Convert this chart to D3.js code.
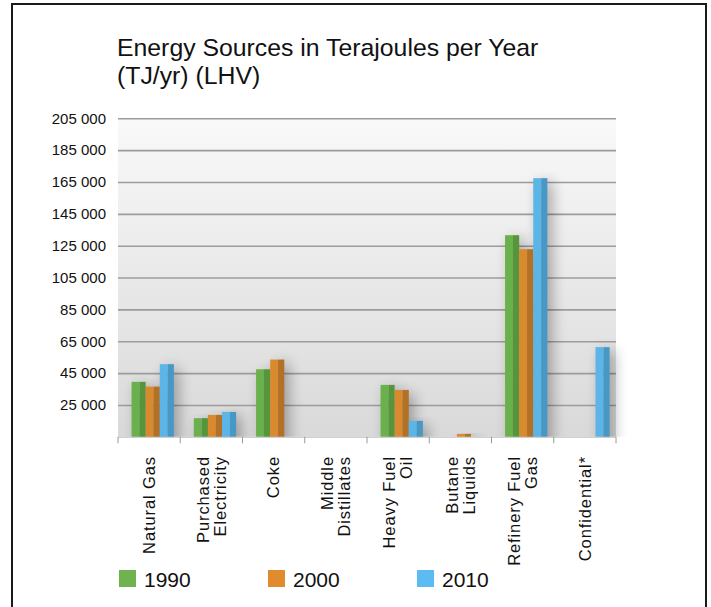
<!DOCTYPE html>
<html>
<head>
<meta charset="utf-8">
<script src="https://cdn.jsdelivr.net/npm/d3@7"></script>
<style>
    body { margin: 0; background: #fff; }
    text { font-family: "Liberation Sans", Arial, Helvetica, sans-serif; fill: #111; }
</style>
</head>
<body>
<div id="vis"></div>
<script>
// chart data
var categories = ['Natural Gas', 'Purchased\nElectricity', 'Coke', 'Middle\nDistillates',
    'Heavy Fuel\nOil', 'Butane\nLiquids', 'Refinery Fuel\nGas', 'Confidential*'];
var years = ['1990', '2000', '2010'];
var values1990 = [39500, 16700, 47400, null, 37600, null, 131600, null];
var values2000 = [36500, 18700, 53500, null, 34400, 6800, 122800, null];
var values2010 = [50600, 20600, null, null, 15000, null, 167400, 61300];
var yTicks = [25000, 45000, 65000, 85000, 105000, 125000, 145000, 165000, 185000, 205000];
var titleLines = ['Energy Sources in Terajoules per Year', '(TJ/yr) (LHV)'];

var width = 711;
var height = 607;
var plot = {left: 118, right: 616, top: 118.3, bottom: 436.8};

// light and dark face of every bar, plus legend colour
var barLight = ['#6ab04c', '#d98a2f', '#5bb5e6'];
var barDark = ['#57953d', '#b37125', '#4898c6'];
var legendColor = ['#6fb24f', '#e08c2e', '#5cbbf0'];

var series = [values1990, values2000, values2010];

var svg = d3.select('#vis')
    .append('svg')
    .attr('width', width)
    .attr('height', height);

var defs = svg.append('defs');

var grad = defs.append('linearGradient')
    .attr('id', 'bg')
    .attr('x1', 0).attr('y1', 0).attr('x2', 0).attr('y2', 1);
grad.append('stop').attr('offset', '0%').attr('stop-color', '#f9f9f9');
grad.append('stop').attr('offset', '100%').attr('stop-color', '#d9d9d9');

var blur = defs.append('filter')
    .attr('id', 'shadow')
    .attr('x', '-100%').attr('y', '-20%').attr('width', '400%').attr('height', '140%');
blur.append('feGaussianBlur').attr('stdDeviation', 7);

defs.append('clipPath').attr('id', 'aboveBase')
    .append('rect')
    .attr('x', 0).attr('y', 0)
    .attr('width', width).attr('height', plot.bottom);

// outer frame (runs past the bottom edge)
svg.append('rect')
    .attr('x', 12).attr('y', 4)
    .attr('width', 694).attr('height', height + 20)
    .attr('fill', 'none')
    .attr('stroke', '#1a1a1a')
    .attr('stroke-width', 2);

// title
svg.append('g').selectAll('text')
    .data(titleLines)
    .enter().append('text')
    .attr('x', 117)
    .attr('y', function (d, i) { return 56 + i * 28; })
    .style('font-size', '24.8px')
    .text(function (d) { return d; });

// scales
var y = d3.scaleLinear()
    .domain([5000, 205000])
    .range([plot.bottom, plot.top]);

var x0 = d3.scaleBand()
    .domain(categories)
    .range([plot.left, plot.right]);

var groupWidth = 42.3;
var groupShift = (x0.bandwidth() - groupWidth) / 2 + 3.6;

var x1 = d3.scaleBand()
    .domain(years)
    .range([0, groupWidth]);

// plot background
svg.append('rect')
    .attr('x', plot.left).attr('y', plot.top)
    .attr('width', plot.right - plot.left)
    .attr('height', plot.bottom - plot.top)
    .attr('fill', 'url(#bg)');

// grid lines + y labels
var yAxis = d3.axisLeft(y)
    .tickValues(yTicks)
    .tickSize(-(plot.right - plot.left))
    .tickPadding(12)
    .tickFormat(function (d) { return d3.format(',')(d).replace(/,/g, ' '); });

var yG = svg.append('g')
    .attr('transform', 'translate(' + plot.left + ',0)')
    .call(yAxis);
yG.select('.domain').remove();
yG.selectAll('.tick line').attr('stroke', '#9c9c9c').attr('stroke-width', 1.6);
yG.selectAll('.tick text')
    .attr('fill', '#111')
    .style('font-size', '15px')
    .style('font-family', '"Liberation Sans", Arial, sans-serif');

// flatten bars
var bars = [];
categories.forEach(function (c, ci) {
    series.forEach(function (s, si) {
        if (s[ci] != null) {
            bars.push({cat: c, year: years[si], idx: si, value: s[ci]});
        }
    });
});

function barX(d) {
    return x0(d.cat) + groupShift + x1(d.year);
}

// soft shadows to the right of the bars
svg.append('g')
    .attr('clip-path', 'url(#aboveBase)')
    .selectAll('rect')
    .data(bars)
    .enter().append('rect')
    .attr('x', function (d) { return barX(d) + 5; })
    .attr('y', function (d) { return y(d.value) + 4; })
    .attr('width', x1.bandwidth())
    .attr('height', function (d) { return plot.bottom - y(d.value) + 20; })
    .attr('fill', '#000')
    .attr('opacity', 0.3)
    .attr('filter', 'url(#shadow)');

var barG = svg.append('g').selectAll('g')
    .data(bars)
    .enter().append('g');

var split = 0.56;
barG.append('rect')
    .attr('x', barX)
    .attr('y', function (d) { return y(d.value); })
    .attr('width', x1.bandwidth() * split)
    .attr('height', function (d) { return plot.bottom - y(d.value); })
    .attr('fill', function (d) { return barLight[d.idx]; });

barG.append('rect')
    .attr('x', function (d) { return barX(d) + x1.bandwidth() * split; })
    .attr('y', function (d) { return y(d.value); })
    .attr('width', x1.bandwidth() * (1 - split))
    .attr('height', function (d) { return plot.bottom - y(d.value); })
    .attr('fill', function (d) { return barDark[d.idx]; });

// base line and category ticks
svg.append('line')
    .attr('x1', plot.left).attr('x2', plot.right)
    .attr('y1', plot.bottom + 0.5).attr('y2', plot.bottom + 0.5)
    .attr('stroke', '#c4c4c4');

var tickPos = categories.map(function (c) { return x0(c); }).concat([plot.right]);
svg.append('g').selectAll('line')
    .data(tickPos)
    .enter().append('line')
    .attr('x1', function (d) { return d; })
    .attr('x2', function (d) { return d; })
    .attr('y1', plot.bottom)
    .attr('y2', plot.bottom + 6.5)
    .attr('stroke', '#9a9a9a');

// rotated category labels
var lineH = 17;
var labelG = svg.append('g').selectAll('g')
    .data(categories)
    .enter().append('g')
    .attr('transform', function (d) {
        return 'translate(' + (x0(d) + x0.bandwidth() / 2) + ',456) rotate(-90)';
    });

labelG.each(function (d) {
    var lines = d.split('\n');
    var t = d3.select(this).append('text')
        .attr('text-anchor', 'end')
        .style('font-size', '16.5px')
        .style('letter-spacing', '0.9px');
    lines.forEach(function (l, i) {
        t.append('tspan')
            .attr('x', 0)
            .attr('y', (i - (lines.length - 1) / 2) * lineH)
            .attr('dy', '0.35em')
            .text(l);
    });
});

// legend
var legend = svg.append('g').selectAll('g')
    .data(years)
    .enter().append('g')
    .attr('transform', function (d, i) { return 'translate(' + (119 + i * 149) + ',570)'; });

legend.append('rect')
    .attr('width', 17).attr('height', 17)
    .attr('fill', function (d, i) { return legendColor[i]; });

legend.append('text')
    .attr('x', 25)
    .attr('y', 16.5)
    .style('font-size', '21px')
    .text(function (d) { return d; });
</script>
</body>
</html>
